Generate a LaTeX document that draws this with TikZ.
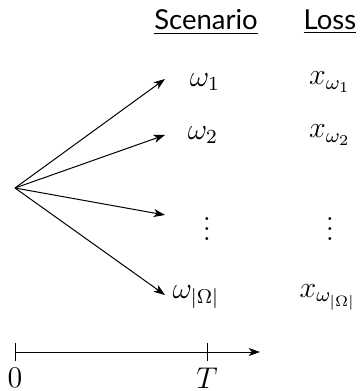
\documentclass[tikz,border=0pt]{standalone}
\usepackage{fontspec}
\newfontfamily\headfont{Lato}
\usetikzlibrary{arrows.meta}
\begin{document}
\begin{tikzpicture}[x=0.4pt,y=-0.4pt,
  arr/.style={-{Stealth[length=4.5pt,width=3.2pt,inset=1.2pt]},line width=0.4pt},
  lab/.style={inner sep=0pt,font=\large},
  head/.style={inner sep=0pt,font=\headfont\fontsize{11}{13}\selectfont},
  tick/.style={line width=0.4pt}]
\useasboundingbox (0,0) rectangle (361,391);
\coordinate (root) at (15,188);
\node[head] (hs) at (206,22) {\underline{Scenario}};
\node[head] (hl) at (330,22) {\underline{Loss}};
\node[lab] (w1) at (205,82) {$\omega_1$};
\node[lab] (w2) at (203,135) {$\omega_2$};
\node[lab] (wd) at (207,222) {$\vdots$};
\node[lab] (wn) at (196,297) {$\omega_{|\Omega|}$};
\node[lab] (x1) at (330,82) {$x_{\omega_1}$};
\node[lab] (x2) at (330,135) {$x_{\omega_2}$};
\node[lab] (xd) at (330,222) {$\vdots$};
\node[lab] (xn) at (328,297) {$x_{\omega_{|\Omega|}}$};
\coordinate (e1) at (165,79);
\coordinate (e2) at (165,135);
\coordinate (e3) at (165,215);
\coordinate (e4) at (165,295);
\draw[arr] (root) -- (e1);
\draw[arr] (root) -- (e2);
\draw[arr] (root) -- (e3);
\draw[arr] (root) -- (e4);
\coordinate (t0) at (15,352);
\coordinate (tT) at (207,352);
\coordinate (tend) at (260,352);
\draw[arr] (t0) -- (tend);
\draw[tick] (15,343) -- (15,361);
\draw[tick] (207,343) -- (207,361);
\node[lab] (l0) at (15,378) {$0$};
\node[lab] (lT) at (207,378) {$T$};
\end{tikzpicture}
\end{document}
